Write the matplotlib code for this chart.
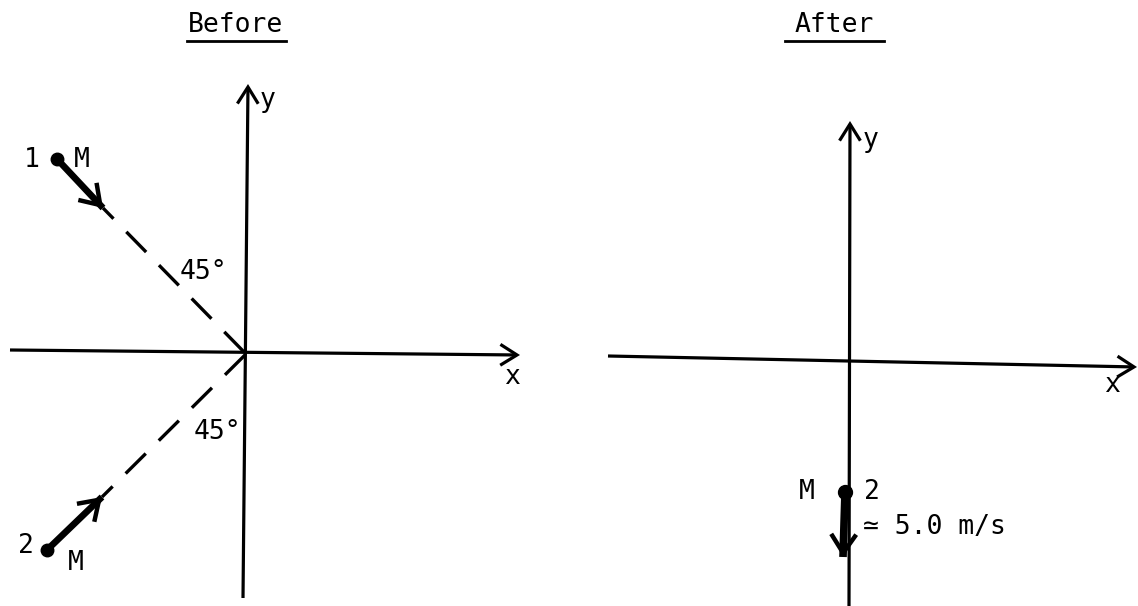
#!/usr/bin/env python3
"""Before / After collision sketch"""

import matplotlib
matplotlib.use("Agg")
import matplotlib.pyplot as plt
from matplotlib.patches import FancyArrowPatch

# panel titles (text, x, y) in pixel space of the scanned page
titles = ["Before", "After"]
title_x = [236, 834]
title_y = [25, 25]

# coordinate axes: start point and arrow tip, one per axis
axis_starts = [(243, 598), (10, 350), (849, 606), (608, 356)]
axis_tips = [(248, 84), (520, 355), (850, 121), (1137, 367)]
axis_labels = ["y", "x", "y", "x"]
axis_label_pos = [(268, 100), (512, 377), (871, 140), (1112, 385)]

# incoming masses (before)
ball_pos = [(57, 159), (47, 550)]
ball_tip = [(103, 208), (102, 497)]
ball_num = ["1", "2"]
ball_num_pos = [(32, 160), (26, 546)]
ball_m_pos = [(82, 160), (76, 563)]
origin = (246, 354)
angle_labels = ["45°", "45°"]
angle_pos = [(203, 272), (217, 432)]

# outgoing mass (after)
after_ball = (845, 492)
after_tip = (843, 557)
after_texts = ["M", "2", "≃ 5.0 m/s"]
after_text_pos = [(807, 492), (872, 492), (863, 527)]


def arrow(ax, p0, p1, lw, hl, hw):
    ax.add_patch(FancyArrowPatch(p0, p1, arrowstyle=f"->,head_length={hl},head_width={hw}",
                                 lw=lw, color="black", shrinkA=0, shrinkB=0,
                                 mutation_scale=10, joinstyle="miter", capstyle="butt"))


def thick_arrow(ax, p0, p1, lw):
    # heavy shaft, light chevron head
    ax.plot([p0[0], p1[0]], [p0[1], p1[1]], color="black", lw=lw, solid_capstyle="butt")
    mid = (p0[0] + 0.7 * (p1[0] - p0[0]), p0[1] + 0.7 * (p1[1] - p0[1]))
    arrow(ax, mid, p1, 3.2, 1.35, 0.9)


def main():
    fig = plt.figure(figsize=(11.38, 6.06), dpi=100)
    ax = fig.add_axes([0, 0, 1, 1])
    ax.set_xlim(0, 1138)
    ax.set_ylim(606, 0)
    ax.axis("off")
    font = dict(family="DejaVu Sans Mono", fontsize=19, color="black")

    # titles with underline
    for t, x, y in zip(titles, title_x, title_y):
        ax.text(x, y, t, ha="center", va="center", **font)
        ax.plot([x - 49, x + 50], [y + 16, y + 16], color="black", lw=2)

    # axes with arrow heads
    for s, e in zip(axis_starts, axis_tips):
        arrow(ax, s, e, 2.3, 1.2, 0.75)
    for lab, (x, y) in zip(axis_labels, axis_label_pos):
        ax.text(x, y, lab, ha="center", va="center", **font)

    # incoming masses, velocity arrows and dashed paths
    for p, tip, n, npos, mpos in zip(ball_pos, ball_tip, ball_num, ball_num_pos, ball_m_pos):
        thick_arrow(ax, p, tip, 4.8)
        ax.plot([tip[0], origin[0]], [tip[1], origin[1]], color="black", lw=2.4,
                linestyle=(4, (8.5, 5.5)))
        ax.plot(*p, "o", color="black", ms=9)
        ax.text(*npos, n, ha="center", va="center", **font)
        ax.text(*mpos, "M", ha="center", va="center", **font)
    for lab, (x, y) in zip(angle_labels, angle_pos):
        ax.text(x, y, lab, ha="center", va="center", **font)

    # outgoing mass
    thick_arrow(ax, after_ball, after_tip, 5.5)
    ax.plot(*after_ball, "o", color="black", ms=10)
    for t, (x, y) in zip(after_texts, after_text_pos):
        ax.text(x, y, t, ha="left" if t.startswith("≃") else "center", va="center", **font)

    fig.savefig("out.png", dpi=100)


if __name__ == "__main__":
    main()
